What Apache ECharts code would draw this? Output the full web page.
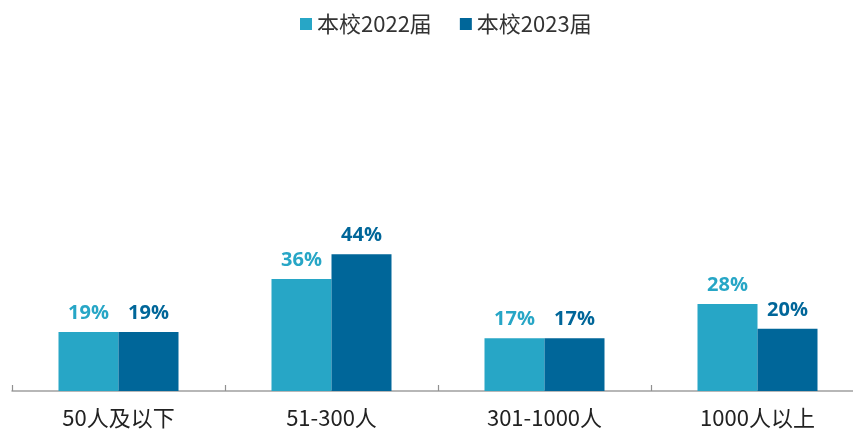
<!DOCTYPE html>
<html><head><meta charset="utf-8">
<script src="https://cdn.jsdelivr.net/npm/echarts@6/dist/echarts.min.js"></script>
<style>html,body{margin:0;padding:0;background:#fff;overflow:hidden;width:853px;height:435px}#c{width:864px;height:435px}</style>
</head><body><div id="c"></div>
<script>
const categories = ['50人及以下', '51-300人', '301-1000人', '1000人以上'];
const series2022 = [19, 36, 17, 28];
const series2023 = [19, 44, 17, 20];
const seriesNames = ['本校2022届', '本校2023届'];
const colors = ['#27A6C6', '#006699'];

const chart = echarts.init(document.getElementById('c'));
const labelStyle = (c) => ({
  show: true, position: 'top', distance: 9,
  formatter: p => p.value + '%',
  color: c, fontSize: 20, fontWeight: 'bold', fontFamily: 'Open Sans'
});
chart.setOption({
  animation: false,
  color: colors,
  legend: {
    top: 8, left: 295, itemWidth: 12, itemHeight: 12, itemGap: 28,
    icon: 'rect',
    textStyle: { fontSize: 22, color: '#333', fontFamily: 'Noto Sans CJK SC' },
    data: seriesNames
  },
  grid: { left: 12, right: 0, top: 80, bottom: 44 },
  xAxis: {
    type: 'category', data: categories,
    axisLine: { lineStyle: { color: '#A0A0A0', width: 1.5 } },
    axisTick: { show: true, inside: true, length: 6, lineStyle: { color: '#909090', width: 1.2 } },
    axisLabel: { fontSize: 22, color: '#222', margin: 16, fontFamily: 'Noto Sans CJK SC' }
  },
  yAxis: { type: 'value', min: 0, max: 100, show: false, splitLine: { show: false } },
  series: [
    { name: seriesNames[0], type: 'bar', data: series2022, barWidth: 60, barGap: '0%', label: labelStyle(colors[0]) },
    { name: seriesNames[1], type: 'bar', data: series2023, barWidth: 60, barGap: '0%', label: labelStyle(colors[1]) }
  ]
});
</script></body></html>
